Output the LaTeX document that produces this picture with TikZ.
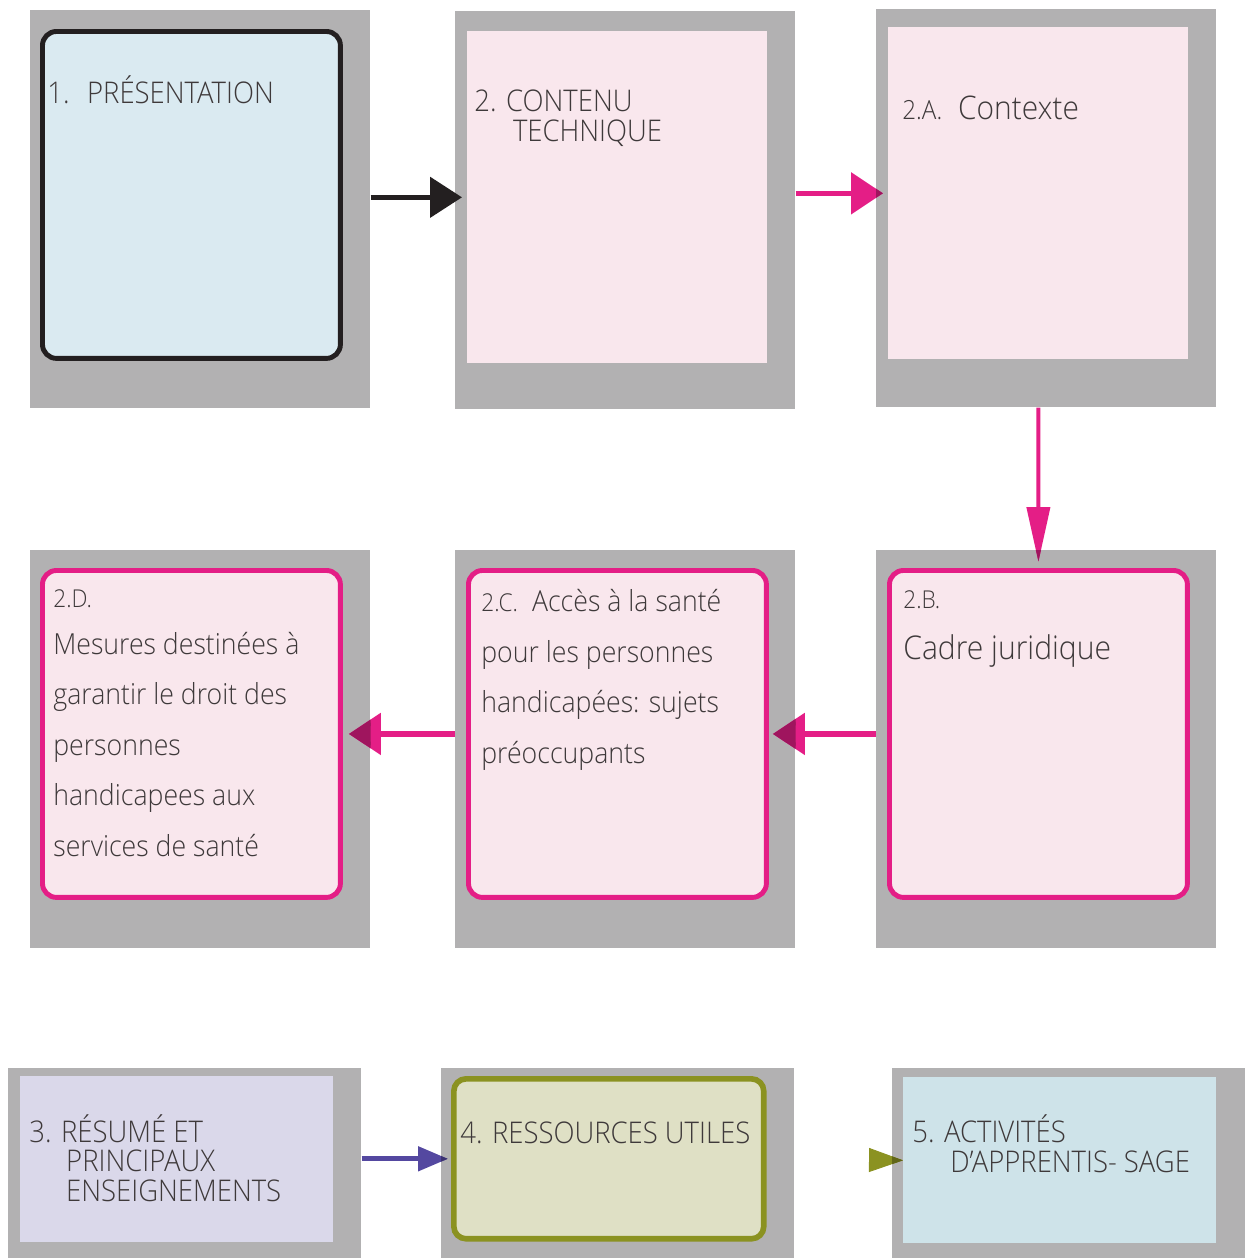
\documentclass[tikz,border=0pt]{standalone}
\usepackage{fontspec}
\setmainfont{Open Sans Light}[FakeStretch=0.92]
\usepackage{tikz}
\usetikzlibrary{positioning,calc}
\usetikzlibrary{arrows.meta}
\definecolor{SlideGray}{RGB}{178,177,178}
\definecolor{PinkFill}{RGB}{249,231,237}
\definecolor{IceBlue}{RGB}{218,234,241}
\definecolor{Magenta}{RGB}{228,30,134}
\definecolor{DeepMagenta}{RGB}{159,21,94}
\definecolor{Ink}{RGB}{35,31,32}
\definecolor{InkGray}{RGB}{62,57,58}
\definecolor{Lavender}{RGB}{218,216,234}
\definecolor{OliveFill}{RGB}{223,224,197}
\definecolor{OliveLine}{RGB}{139,146,33}
\definecolor{DeepOlive}{RGB}{97,101,23}
\definecolor{PaleTeal}{RGB}{206,227,233}
\definecolor{Violet}{RGB}{84,72,160}
\definecolor{DeepViolet}{RGB}{59,50,112}
\tikzset{
  back/.style={fill=SlideGray,inner sep=0pt,anchor=north west,minimum width=6.8cm,minimum height=7.96cm},
  backlow/.style={back,minimum width=7.06cm,minimum height=3.84cm},
  card/.style={fill=PinkFill,inner sep=0pt,anchor=north west,minimum width=6.0cm,minimum height=6.64cm},
  framed/.style={card,line width=2.8pt,rounded corners=8pt,minimum width=5.96cm,minimum height=6.54cm},
  cardlow/.style={inner sep=0pt,anchor=north west,minimum width=6.26cm,minimum height=3.32cm},
  txt/.style={anchor=base west,inner sep=0pt,text=InkGray,align=left},
  caps/.style={txt,font=\fontsize{17}{16.6}\selectfont},
  body/.style={txt,font=\fontsize{16.5}{28.7}\selectfont},
}
\tikzset{link/.style={line width=2.8pt},
  pinkhead/.style={link,line width=3pt,-{Triangle[length=0.64cm,width=0.82cm]}},
  downhead/.style={link,line width=2.3pt,-{Triangle[length=1.1cm,width=0.46cm]}},
  violethead/.style={link,-{Triangle[length=0.6cm,width=0.48cm]}},
  olivehead/.style={link,line width=0.5pt,-{Triangle[length=0.68cm,width=0.48cm]}}}
\newcommand{\numtag}[1]{{\fontsize{14}{14}\selectfont #1}}

\begin{document}
\begin{tikzpicture}[x=0.02cm,y=-0.02cm]
\path[fill=white] (0,0) rectangle (1245,1258);
\useasboundingbox (0,0) rectangle (1245,1258);
% first row
\node[back] (b1) at (30,10) {};
\node[back] (b2) at (455,11) {};
\node[back] (b2a) at (876,9) {};
\node[framed,fill=IceBlue,draw=Ink] (c1) at (40,29) {};
\node[card] (c2) at (467,31) {};
\node[card] (c2a) at (888,27) {};
\node[caps] at ($(c1.north west)+(7,74)$) {1.\hspace{10pt}PRÉSENTATION};
\node[caps] at ($(c2.north west)+(7,110)$) {2. CONTENU\\\hspace*{22pt}TECHNIQUE};
\node[txt,font=\fontsize{18.5}{20}\selectfont] at ($(c2a.north west)+(14,92)$) {{\fontsize{15}{15}\selectfont 2.A.}\hspace{9pt}Contexte};
% second row
\node[back] (b2b) at (876,550) {};
\node[back] (b2c) at (455,550) {};
\node[back] (b2d) at (30,550) {};
\node[framed,draw=Magenta] (c2b) at (887,568) {};
\node[framed,draw=Magenta] (c2c) at (466,568) {};
\node[framed,draw=Magenta] (c2d) at (40,568) {};
\node[txt] at ($(c2b.north west)+(16,40)$) {\numtag{2.B.}};
\node[txt,font=\fontsize{18.6}{20}\selectfont] at ($(c2b.north west)+(16,91)$) {Cadre juridique};
\node[body] at ($(c2c.north west)+(15,195)$) {\numtag{2.C.}\hspace{8pt}Accès à la santé\\pour les personnes\\handicapées: sujets\\préoccupants};
\node[txt] at ($(c2d.north west)+(13,39)$) {\numtag{2.D.}};
\node[body] at ($(c2d.north west)+(13,288)$) {Mesures destinées à\\garantir le droit des\\personnes\\handicapees aux\\services de santé};
% third row
\node[back,backlow] (b3) at (8,1068) {};
\node[back,backlow] (b4) at (441,1068) {};
\node[back,backlow] (b5) at (892,1068) {};
\node[cardlow,fill=Lavender] (c3) at (20,1076) {};
\node[cardlow,fill=OliveFill,draw=OliveLine,line width=3.2pt,rounded corners=7pt,minimum width=6.2cm,minimum height=3.2cm] (c4) at (451,1076) {};
\node[cardlow,fill=PaleTeal] (c5) at (903,1077) {};
\node[caps] at ($(c3.north west)+(9,125)$) {3. RÉSUMÉ ET\\\hspace*{21pt}PRINCIPAUX\\\hspace*{21pt}ENSEIGNEMENTS};
\node[caps] at ($(c4.north west)+(9,67)$) {4. RESSOURCES UTILES};
\node[caps] at ($(c5.north west)+(9,95)$) {5. ACTIVITÉS\\\hspace*{21.6pt}D'APPRENTIS- SAGE};
% arrows
\coordinate (o5) at (869,1160);
\draw[link,draw=Ink,-{Triangle[length=0.64cm,width=0.8cm]},shorten >=0.1cm] (b1.east |- c2.west) -- (c2.west);
\draw[pinkhead,draw=Magenta,shorten >=0.1cm] (b2.east |- c2a.west) -- (c2a.west);
\draw[downhead,draw=Magenta,shorten >=0.12cm] (c2a.south |- b2a.south) -- (c2b.north);
\draw[pinkhead,draw=Magenta,shorten >=0.08cm] (b2b.west |- c2b.west) -- (c2c.east);
\draw[pinkhead,draw=Magenta,shorten >=0.12cm] (b2c.west |- c2c.west) -- (c2d.east);
\draw[violethead,draw=Violet,shorten >=0.06cm] (b3.east |- c4.west) -- (c4.west);
\draw[olivehead,draw=OliveLine] (o5) -- (c5.west);
% tips over the grey frames look darker
\begin{scope}
\clip (b2a.north west) rectangle (c2a.west |- b2a.south);
\draw[pinkhead,draw=DeepMagenta,shorten >=0.1cm] (b2.east |- c2a.west) -- (c2a.west);
\end{scope}
\begin{scope}
\clip (b2b.north west) rectangle (b2b.east |- c2b.north);
\draw[downhead,draw=DeepMagenta,shorten >=0.12cm] (c2a.south |- b2a.south) -- (c2b.north);
\end{scope}
\begin{scope}
\clip (c2c.north east) rectangle (b2c.south east);
\draw[pinkhead,draw=DeepMagenta,shorten >=0.08cm] (b2b.west |- c2b.west) -- (c2c.east);
\end{scope}
\begin{scope}
\clip (c2d.north east) rectangle (b2d.south east);
\draw[pinkhead,draw=DeepMagenta,shorten >=0.12cm] (b2c.west |- c2c.west) -- (c2d.east);
\end{scope}
\begin{scope}
\clip (b4.north west) rectangle (c4.west |- b4.south);
\draw[violethead,draw=DeepViolet,shorten >=0.06cm] (b3.east |- c4.west) -- (c4.west);
\end{scope}
\begin{scope}
\clip (b5.north west) rectangle (c5.west |- b5.south);
\draw[olivehead,draw=DeepOlive] (o5) -- (c5.west);
\end{scope}
\end{tikzpicture}
\end{document}
